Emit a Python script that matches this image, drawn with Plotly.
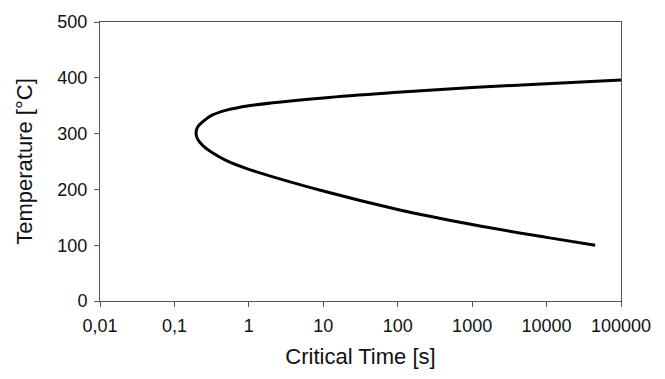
import plotly.graph_objects as go

# C-curve: upper branch (long times -> nose), then lower branch
time_s = [100000, 10000, 1000, 100, 10, 1, 0.5, 0.32, 0.243, 0.205, 0.195,
          0.205, 0.243, 0.32, 0.5, 1, 10, 100, 1000, 10000, 45000]
temp_c = [396, 389.5, 382.5, 374, 364, 350, 342, 333, 322, 312, 301,
          290, 278, 266, 251.5, 236, 197, 164, 137, 114, 100]

x_tickvals = [0.01, 0.1, 1, 10, 100, 1000, 10000, 100000]
x_ticktext = ["0,01", "0,1", "1", "10", "100", "1000", "10000", "100000"]
y_tickvals = [0, 100, 200, 300, 400, 500]

fig = go.Figure()
fig.add_trace(go.Scatter(
    x=time_s, y=temp_c, mode="lines",
    line=dict(color="black", width=3, shape="spline", smoothing=1.0),
    showlegend=False, hoverinfo="skip",
))

font = "Liberation Sans, Arial, sans-serif"
axis_col = "#555555"
fig.update_layout(
    width=665, height=379,
    margin=dict(l=100, r=44, t=16, b=78),
    plot_bgcolor="white", paper_bgcolor="white",
    font=dict(family=font, color="#111111", size=18),
)
fig.update_xaxes(
    type="log", range=[-2, 5],
    tickvals=x_tickvals, ticktext=x_ticktext,
    ticks="outside", ticklen=5, tickcolor=axis_col, tickwidth=1,
    ticklabelstandoff=3,
    showline=True, linecolor=axis_col, linewidth=1, mirror=True,
    showgrid=False, zeroline=False,
    tickfont=dict(size=18),
    title=dict(text="Critical Time [s]", font=dict(size=22), standoff=14),
)
fig.update_yaxes(
    range=[0, 500], tickvals=y_tickvals,
    ticks="outside", ticklen=5, tickcolor=axis_col, tickwidth=1,
    ticklabelstandoff=3,
    showline=True, linecolor=axis_col, linewidth=1, mirror=True,
    showgrid=False, zeroline=False,
    tickfont=dict(size=18),
    title=dict(text="Temperature [°C]", font=dict(size=22), standoff=18),
)

fig.write_html("out.html")
